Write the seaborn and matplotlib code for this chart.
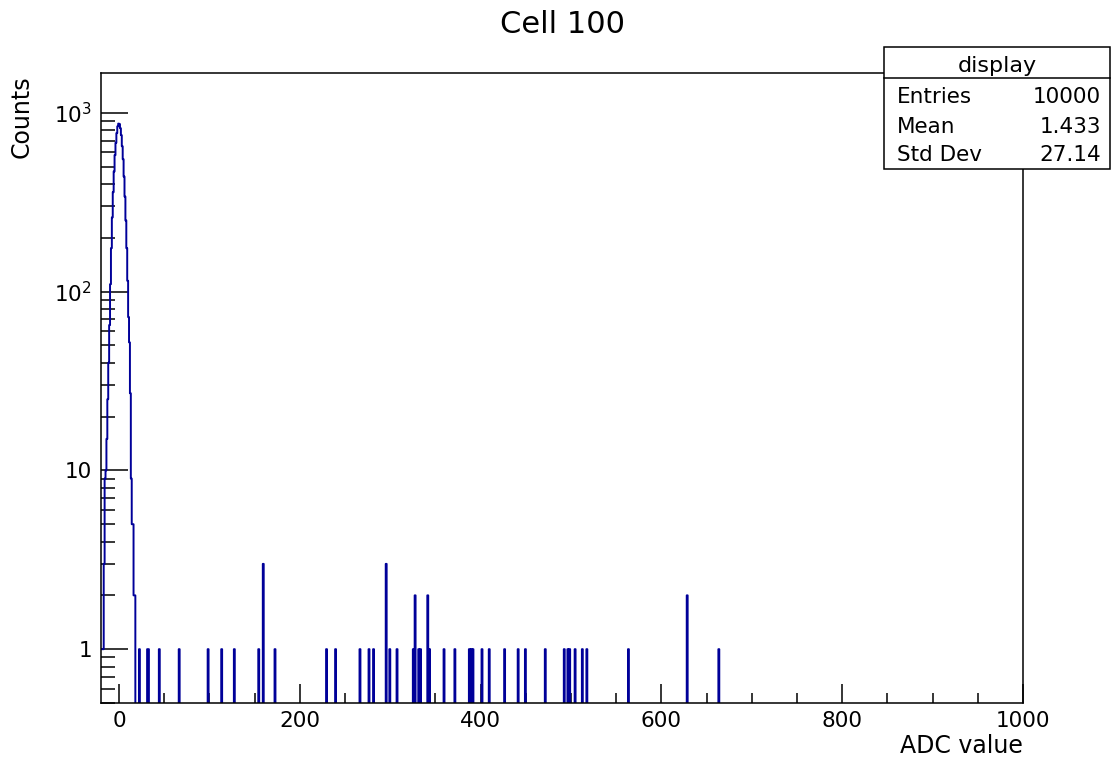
import numpy as np
import pandas as pd
import matplotlib
matplotlib.use("Agg")
import matplotlib.pyplot as plt
import seaborn as sns
from matplotlib.ticker import FixedLocator, FixedFormatter, NullFormatter
from matplotlib.patches import Rectangle
from matplotlib.lines import Line2D

# ---------------- data ----------------
peak_adc = [-20, -19, -18, -17, -16, -15, -14, -13, -12, -11, -10, -9, -8, -7,
            -6, -5, -4, -3, -2, -1, 0, 1, 2, 3, 4, 5, 6, 7, 8, 9, 10, 11, 12,
            13, 14, 15, 16, 17]
peak_counts = [1, 1, 1, 3, 9, 10, 15, 25, 40, 65, 110, 175, 260, 360,
               470, 580, 680, 770, 840, 870, 865, 820, 750, 650, 550, 440, 340,
               250, 175, 115, 72, 52, 27, 9, 5, 5, 2, 2]

spike_adc = [22, 31, 32, 44, 66, 98, 113, 127, 154, 159,
             172, 229, 239, 266, 276, 281, 295, 299, 307, 325,
             327, 331, 333, 341, 343, 359, 371, 387, 389, 391,
             401, 409, 426, 441, 449, 471, 492, 496, 498, 504,
             512, 517, 563, 628, 663]
spike_counts = [1, 1, 1, 1, 1, 1, 1, 1, 1, 3,
                1, 1, 1, 1, 1, 1, 3, 1, 1, 1,
                2, 1, 1, 2, 1, 1, 1, 1, 1, 1,
                1, 1, 1, 1, 1, 1, 1, 1, 1, 1,
                1, 1, 1, 2, 1]

x_min, x_max = -20, 1000
y_min, y_max = 0.5, 1670
x_major = [0, 200, 400, 600, 800, 1000]
y_major = [1, 10, 100, 1000]
y_major_labels = ["1", "10", "$10^{2}$", "$10^{3}$"]
title = "Cell 100"
x_title = "ADC value"
y_title = "Counts"
stats_name = "display"
stats_labels = ["Entries", "Mean", "Std Dev"]
stats_values = ["10000", "1.433", "27.14"]

df = pd.DataFrame({"adc": peak_adc + spike_adc,
                   "counts": peak_counts + spike_counts})
df["center"] = df["adc"] + 0.5
edges = [float(e) for e in np.arange(x_min, x_max + 1, 1)]

W, H = 1111, 761
def fx(px):
    return px / W
def fy(py):
    return 1 - py / H

plt.rcParams["font.family"] = ["DejaVu Sans"]
fig = plt.figure(figsize=(W / 100, H / 100), dpi=100)
ax = fig.add_axes([fx(101), fy(703), fx(1023) - fx(101), (703 - 73) / H])

sns.histplot(data=df, x="center", weights="counts", bins=edges,
             element="step", fill=False, color="#000099", linewidth=1.4, ax=ax)

ax.set_yscale("log")
ax.set_xlim(x_min, x_max)
ax.set_ylim(y_min, y_max)
ax.set_xlabel("")
ax.set_ylabel("")

ax.xaxis.set_major_locator(FixedLocator(x_major))
ax.xaxis.set_minor_locator(FixedLocator(list(range(0, 1001, 50))))
ax.xaxis.set_major_formatter(FixedFormatter([str(v) for v in x_major]))
ax.yaxis.set_major_locator(FixedLocator(y_major))
ax.yaxis.set_major_formatter(FixedFormatter(y_major_labels))
y_minor = [s * 10.0 ** d for d in range(-1, 4) for s in range(2, 10)]
y_minor = [v for v in y_minor if y_min <= v <= y_max]
ax.yaxis.set_minor_locator(FixedLocator(y_minor))
ax.yaxis.set_minor_formatter(NullFormatter())

ax.tick_params(axis="x", which="major", direction="in", length=13.7, width=1.1,
               labelsize=15.5, pad=6, top=False, color="black")
ax.tick_params(axis="x", which="minor", direction="in", length=7.2, width=1.1,
               top=False)
ax.tick_params(axis="y", which="major", direction="in", length=19.4, width=1.1,
               labelsize=15.5, pad=6.5, right=False)
ax.tick_params(axis="y", which="minor", direction="in", length=10, width=1.1,
               right=False)
for sp in ax.spines.values():
    sp.set_linewidth(1.1)
    sp.set_color("black")

fig.text(fx(563), fy(33.3), title, ha="center", va="baseline", fontsize=22)
fig.text(fx(1023), fy(753), x_title, ha="right", va="baseline", fontsize=17)
fig.text(fx(22), fy(75), y_title, ha="center", va="top", rotation=90, fontsize=17)

# stats box
box = Rectangle((fx(884), fy(169)), fx(1110) - fx(884), (169 - 47) / H,
                transform=fig.transFigure, facecolor="white", edgecolor="black",
                linewidth=1.1, zorder=10)
fig.add_artist(box)
fig.add_artist(Line2D([fx(884), fx(1110)], [fy(78), fy(78)],
                      transform=fig.transFigure, color="black", linewidth=1.1,
                      zorder=11))
fig.text(fx(997), fy(71.7), stats_name, ha="center", va="baseline",
         fontsize=16, zorder=12)
for lab, val, yb in zip(stats_labels, stats_values, [103.3, 132.7, 160.7]):
    fig.text(fx(897), fy(yb), lab, ha="left", va="baseline", fontsize=15.5, zorder=12)
    fig.text(fx(1101), fy(yb), val, ha="right", va="baseline", fontsize=15.5, zorder=12)

fig.savefig("out.png", dpi=100)
